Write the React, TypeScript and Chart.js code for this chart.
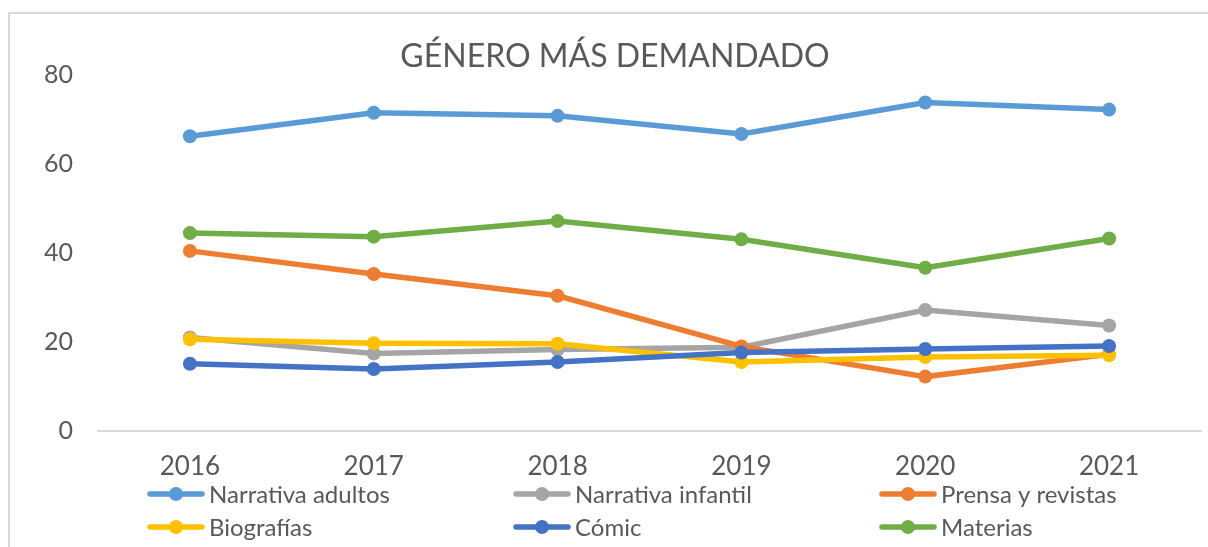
import React, { useEffect, useRef } from "react";
import { Chart, registerables } from "chart.js";

Chart.register(...registerables);

const titleText = "GÉNERO MÁS DEMANDADO";
const years = ["2016", "2017", "2018", "2019", "2020", "2021"];
const seriesNames = [
  "Narrativa adultos",
  "Narrativa infantil",
  "Prensa y revistas",
  "Biografías",
  "Cómic",
  "Materias",
];
const narrativaAdultos = [66.3, 71.6, 70.9, 66.8, 73.9, 72.3];
const narrativaInfantil = [21.0, 17.4, 18.3, 18.8, 27.2, 23.7];
const prensaRevistas = [40.5, 35.3, 30.4, 19.0, 12.2, 17.2];
const biografias = [20.6, 19.7, 19.6, 15.5, 16.6, 17.0];
const comic = [15.1, 13.9, 15.5, 17.6, 18.4, 19.1];
const materias = [44.5, 43.7, 47.2, 43.1, 36.7, 43.3];
const seriesColors = ["#5B9BD5", "#A5A5A5", "#ED7D31", "#FFC000", "#4472C4", "#70AD47"];
const yMin = 0;
const yMax = 80;
const yStep = 20;

const TEXT = "#595959";
const FONT = "Lato, 'Open Sans', sans-serif";

const gridLegend = {
  id: "gridLegend",
  afterDraw(chart: any) {
    const ctx = chart.ctx;
    const ds = chart.data.datasets;
    ctx.save();
    ctx.font = `24px ${FONT}`;
    ctx.textBaseline = "middle";
    ctx.textAlign = "left";
    for (let i = 0; i < ds.length; i++) {
      const col = i % 3;
      const row = Math.floor(i / 3);
      const x0 = 148 + col * 366;
      const y = 494 + row * 33;
      ctx.strokeStyle = ds[i].borderColor;
      ctx.lineWidth = 5.5;
      ctx.lineCap = "round";
      ctx.beginPath();
      ctx.moveTo(x0 + 2, y);
      ctx.lineTo(x0 + 54, y);
      ctx.stroke();
      ctx.fillStyle = ds[i].borderColor;
      ctx.beginPath();
      ctx.arc(x0 + 28, y, 7, 0, Math.PI * 2);
      ctx.fill();
      ctx.fillStyle = TEXT;
      ctx.fillText(ds[i].label, x0 + 61, y + 1);
    }
    ctx.restore();
  },
};

export default function App() {
  const ref = useRef<HTMLCanvasElement | null>(null);
  useEffect(() => {
    if (!ref.current) return;
    const values = [narrativaAdultos, narrativaInfantil, prensaRevistas, biografias, comic, materias];
    const chart = new Chart(ref.current, {
      type: "line",
      data: {
        labels: years,
        datasets: values.map((v, i) => ({
          label: seriesNames[i],
          data: v,
          borderColor: seriesColors[i],
          backgroundColor: seriesColors[i],
          pointBackgroundColor: seriesColors[i],
          pointBorderWidth: 0,
          pointRadius: 7,
          borderWidth: 5.5,
          tension: 0,
          fill: false,
          order: values.length - 1 - i,
        })),
      },
      options: {
        animation: false,
        responsive: false,
        layout: { padding: { top: 22, left: 24, right: 2, bottom: 45 } },
        plugins: {
          legend: { display: false },
          tooltip: { enabled: false },
          title: {
            display: true,
            text: titleText,
            color: TEXT,
            font: { family: FONT, size: 32, weight: "normal" },
            padding: { top: 15, bottom: 0 },
          },
        },
        scales: {
          x: {
            offset: true,
            grid: { display: false, drawTicks: false },
            border: { display: true, color: "#D9D9D9", width: 2 },
            ticks: {
              color: TEXT,
              font: { family: FONT, size: 26 },
              padding: 20,
              maxRotation: 0,
            },
          },
          y: {
            min: yMin,
            max: yMax,
            afterFit(scale: any) {
              scale.width = 74;
            },
            grid: { display: false, drawTicks: false },
            border: { display: false },
            ticks: {
              stepSize: yStep,
              color: TEXT,
              font: { family: FONT, size: 25 },
              padding: 25,
            },
          },
        },
      },
      plugins: [gridLegend],
    });
    return () => chart.destroy();
  }, []);

  return (
    <div style={{ position: "fixed", left: 0, top: 0, width: 1208, height: 547, overflow: "hidden", background: "#fff" }}>
      <div
        style={{
          position: "absolute",
          left: 8,
          top: 12,
          width: 1300,
          height: 700,
          border: "2px solid #D9D9D9",
          boxSizing: "border-box",
        }}
      />
      <canvas ref={ref} width={1208} height={547} style={{ position: "absolute", left: 0, top: 0 }} />
    </div>
  );
}
